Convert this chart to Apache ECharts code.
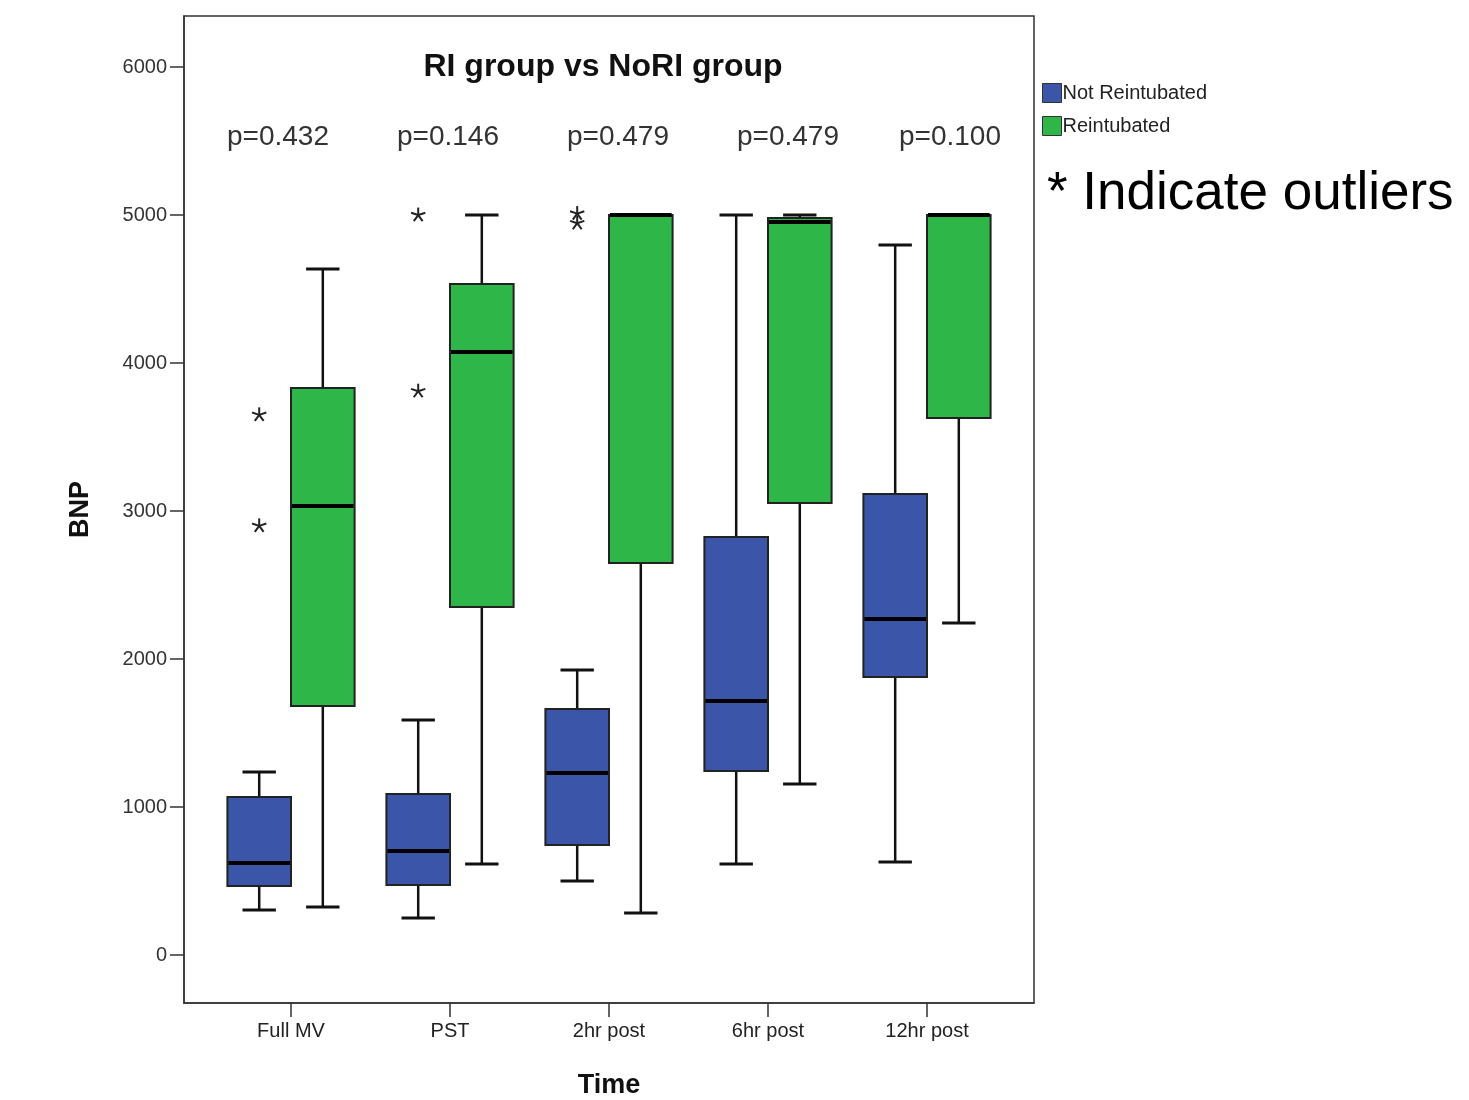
<!DOCTYPE html>
<html><head><meta charset="utf-8">
<script src="https://cdn.jsdelivr.net/npm/echarts@6/dist/echarts.min.js"></script>
<style>html,body{margin:0;padding:0;background:#fff}#c{width:1469px;height:1100px}</style>
</head><body><div id="c"></div>
<script>
var categories = ['Full MV', 'PST', '2hr post', '6hr post', '12hr post'];
// each row: [min, Q1, median, Q3, max]
var notReintubated = [
  [304, 466, 622, 1068, 1236],
  [250, 473, 703, 1088, 1588],
  [500, 743, 1230, 1662, 1926],
  [615, 1243, 1716, 2824, 5000],
  [628, 1878, 2270, 3115, 4797]
];
var reintubated = [
  [324, 1682, 3034, 3831, 4635],
  [615, 2351, 4074, 4534, 5000],
  [284, 2649, 5000, 5000, 5000],
  [1155, 3054, 4953, 4980, 5000],
  [2243, 3628, 5000, 5000, 5000]
];
// [category index, value]
var outliersNotReintubated = [[0, 3650], [0, 2900], [1, 5000], [1, 3810], [2, 5010], [2, 4945]];
var pValues = ['p=0.432', 'p=0.146', 'p=0.479', 'p=0.479', 'p=0.100'];
var yTicks = [0, 1000, 2000, 3000, 4000, 5000, 6000];
var seriesNames = ['Not Reintubated', 'Reintubated'];

// layout constants (not data)
var FONT = '"Liberation Sans", Arial, sans-serif';
var pLabelX = [278, 448, 618, 788, 950];
var COLORS = ['#3B56A8', '#2EB748'];

function boxRenderer(side, fill) {
  return function (params, api) {
    var i = api.value(0);
    var band = api.size([1, 0])[0];
    var cx = api.coord([i, 0])[0] + side * band * 0.2;
    var half = band * 0.2, capHalf = band * 0.105;
    function y(k) { return api.coord([i, api.value(k)])[1]; }
    var yMin = y(1), yQ1 = y(2), yMed = y(3), yQ3 = y(4), yMax = y(5);
    var ls = { stroke: '#111', lineWidth: 2.5 };
    var cs = { stroke: '#111', lineWidth: 3 };
    return { type: 'group', children: [
      { type: 'line', shape: { x1: cx, y1: yQ3, x2: cx, y2: yMax }, style: ls },
      { type: 'line', shape: { x1: cx, y1: yQ1, x2: cx, y2: yMin }, style: ls },
      { type: 'line', shape: { x1: cx - capHalf, y1: yMax, x2: cx + capHalf, y2: yMax }, style: cs },
      { type: 'line', shape: { x1: cx - capHalf, y1: yMin, x2: cx + capHalf, y2: yMin }, style: cs },
      { type: 'rect', shape: { x: cx - half, y: yQ3, width: 2 * half, height: yQ1 - yQ3 }, style: { fill: fill, stroke: '#222', lineWidth: 2 } },
      { type: 'line', shape: { x1: cx - half + 1, y1: yMed, x2: cx + half - 1, y2: yMed }, style: { stroke: '#000', lineWidth: 4 } }
    ]};
  };
}

function starRenderer(side) {
  return function (params, api) {
    var i = api.value(0);
    var band = api.size([1, 0])[0];
    var p = api.coord([i, api.value(1)]);
    var cx = p[0] + side * band * 0.2, cy = p[1];
    var r = 7.5, kids = [];
    for (var k = 0; k < 5; k++) {
      var a = (-90 + 72 * k) * Math.PI / 180;
      kids.push({ type: 'line', shape: { x1: cx, y1: cy, x2: cx + r * Math.cos(a), y2: cy + r * Math.sin(a) }, style: { stroke: '#222', lineWidth: 2 } });
    }
    return { type: 'group', children: kids };
  };
}

var graphics = [
  { type: 'text', x: 603, y: 67, style: { text: 'RI group vs NoRI group', font: 'bold 32px ' + FONT, fill: '#111', textAlign: 'center', textVerticalAlign: 'middle' } },
  { type: 'text', x: 1047, y: 194, style: { text: '* Indicate outliers', font: '53px ' + FONT, fill: '#000', textAlign: 'left', textVerticalAlign: 'middle' } }
];
pValues.forEach(function (t, i) {
  graphics.push({ type: 'text', x: pLabelX[i], y: 137, style: { text: t, font: '28px ' + FONT, fill: '#333', textAlign: 'center', textVerticalAlign: 'middle' } });
});

var chart = echarts.init(document.getElementById('c'), null, { renderer: 'canvas' });
chart.setOption({
  animation: false,
  backgroundColor: '#fff',
  grid: { left: 184, top: 16, width: 850, height: 987, show: true, borderColor: '#333', borderWidth: 1.5, backgroundColor: 'transparent', outerBoundsMode: 'none', containLabel: false },
  legend: {
    orient: 'vertical', left: 1037, top: 78, itemGap: 13, itemWidth: 19, itemHeight: 19, icon: 'rect',
    data: seriesNames,
    itemStyle: { borderColor: '#333', borderWidth: 1 },
    textStyle: { fontFamily: FONT, fontSize: 20, color: '#222', padding: [0, 0, 0, -4] }
  },
  xAxis: {
    type: 'value', min: -0.673, max: 4.673,
    name: 'Time', nameLocation: 'middle', nameGap: 69,
    nameTextStyle: { fontFamily: FONT, fontSize: 27, fontWeight: 'bold', color: '#111' },
    axisLine: { show: true, onZero: false, lineStyle: { color: '#333', width: 1.5 } },
    axisTick: { show: true, length: 14, customValues: [0, 1, 2, 3, 4], lineStyle: { color: '#333', width: 1.5 } },
    axisLabel: { customValues: [0, 1, 2, 3, 4], margin: 18, fontFamily: FONT, fontSize: 20, color: '#222', formatter: function (v) { return categories[Math.round(v)]; } },
    splitLine: { show: false }
  },
  yAxis: {
    type: 'value', min: -324, max: 6345,
    name: 'BNP', nameLocation: 'middle', nameGap: 90,
    nameTextStyle: { fontFamily: FONT, fontSize: 27, fontWeight: 'bold', color: '#111' },
    axisLine: { show: true, onZero: false, lineStyle: { color: '#333', width: 1.5 } },
    axisTick: { show: true, length: 14, customValues: yTicks, lineStyle: { color: '#333', width: 1.5 } },
    axisLabel: { customValues: yTicks, margin: 17, fontFamily: FONT, fontSize: 20, color: '#333', formatter: function (v) { return String(v); } },
    splitLine: { show: false }
  },
  graphic: graphics,
  series: [
    { name: seriesNames[0], type: 'custom', renderItem: boxRenderer(-1, COLORS[0]), itemStyle: { color: COLORS[0] },
      encode: { x: 0, y: [1, 2, 3, 4, 5] },
      data: notReintubated.map(function (d, i) { return [i].concat(d); }) },
    { name: seriesNames[1], type: 'custom', renderItem: boxRenderer(1, COLORS[1]), itemStyle: { color: COLORS[1] },
      encode: { x: 0, y: [1, 2, 3, 4, 5] },
      data: reintubated.map(function (d, i) { return [i].concat(d); }) },
    { name: 'outliers', type: 'custom', renderItem: starRenderer(-1), encode: { x: 0, y: 1 },
      data: outliersNotReintubated }
  ]
});
</script>
</body></html>
